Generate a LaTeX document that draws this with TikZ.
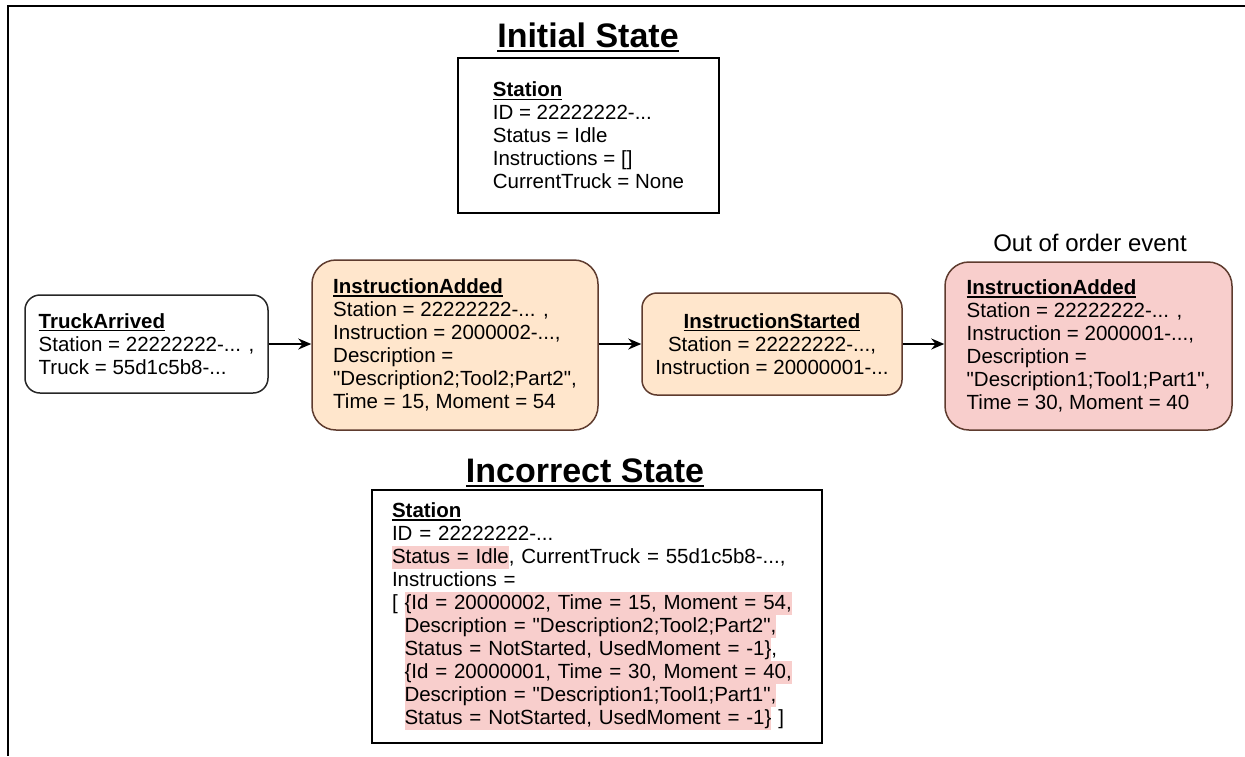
\documentclass[tikz,border=0pt]{standalone}
\usepackage{fontspec}
\setmainfont{Liberation Sans}
\usetikzlibrary{arrows.meta}

\definecolor{peach}{HTML}{FFE6CC}
\definecolor{rose}{HTML}{F8CECC}
\definecolor{rust}{HTML}{5E3B2E}

% underlined words: small ones inside boxes, big ones for the headings
\newcommand{\ulword}[1]{\leavevmode\setbox0\hbox{#1}\rlap{\rule[-3pt]{\wd0}{1.3pt}}\box0}
\newcommand{\ultitle}[1]{\leavevmode\setbox0\hbox{#1}\rlap{\rule[-5pt]{\wd0}{2.4pt}}\box0}
% pink marker behind wrong values, one full line high
\newcommand{\hlite}[1]{{\setlength{\fboxsep}{0pt}\colorbox{rose}{\rule[-5.5pt]{0pt}{23pt}#1}}}
\newcommand{\skipin}{\hphantom{[ }}
\newcommand{\qq}{\textquotedbl{}}

\begin{document}
\begin{tikzpicture}[x=1pt,y=-1pt]
	\tikzstyle{every node}+=[font=\fontsize{20.5}{23}\selectfont,inner sep=0pt]
	\tikzstyle{state}=[draw=black,line width=1.5pt,align=left]
	\tikzstyle{event}=[draw=rust,fill=peach,line width=1.5pt,align=left]
	\tikzstyle{heading}=[anchor=base,font=\fontsize{34}{38}\selectfont\bfseries]
	\tikzstyle{flow}=[line width=1.5pt,-{Stealth[length=13pt,width=11pt]}]
	\useasboundingbox (0,0) rectangle (1245,756);
	\lineskiplimit=-10pt
	% frame edges
	\draw [line width=2pt] (7,6) -- (1245,6);
	\draw [line width=2pt] (8,5) -- (8,756);
	% initial state
	\node [heading] (inittitle) at (588,47) {\ultitle{Initial State}};
	\node [state,minimum width=261pt,minimum height=155pt] (init) at (588.5,135.5) {\ulword{\textbf{Station}}\\ID = 22222222-...\\Status = Idle\\Instructions = []\\CurrentTruck = None};
	% events
	\node [draw=black!85,line width=1.5pt,rounded corners=15pt,align=left,minimum width=243pt,minimum height=98pt] (truck) at (146.5,344) {\ulword{\textbf{TruckArrived}}\\Station = 22222222-... ,\\Truck = 55d1c5b8-...};
	\node [event,rounded corners=24pt,minimum width=286pt,minimum height=170pt] (added) at (455,345) {\ulword{\textbf{InstructionAdded}}\\Station = 22222222-... ,\\Instruction = 2000002-...,\\Description =\\\qq Description2;Tool2;Part2\qq,\\Time = 15, Moment = 54};
	\node [event,align=center,rounded corners=15pt,minimum width=260pt,minimum height=102pt] (started) at (772,344) {\ulword{\textbf{InstructionStarted}}\\Station = 22222222-...,\\Instruction = 20000001-...};
	\node [event,fill=rose,rounded corners=24pt,minimum width=287pt,minimum height=168pt] (late) at (1088.5,346) {\ulword{\textbf{InstructionAdded}}\\Station = 22222222-... ,\\Instruction = 2000001-...,\\Description =\\\qq Description1;Tool1;Part1\qq,\\Time = 30, Moment = 40};
	\node [font=\fontsize{24}{28}\selectfont] (latenote) at (1090,243) {Out of order event};
	\draw [flow] (truck.east) -- (truck.east -| added.west);
	\draw [flow] (added.east |- started.west) -- (started.west);
	\draw [flow] (started.east) -- (started.east -| late.west);
	% incorrect state
	\node [heading] (badtitle) at (585,482) {\ultitle{Incorrect State}};
	\node [state,text width=410pt,inner xsep=20pt,minimum height=253pt] (bad) at (597,616.5) {\ulword{\textbf{Station}}\\ID = 22222222-...\\\hlite{Status = Idle}, CurrentTruck = 55d1c5b8-...,\\Instructions =\\{[} \hlite{\{Id = 20000002, Time = 15, Moment = 54,}\\\skipin\hlite{Description = \qq Description2;Tool2;Part2\qq,}\\\skipin\hlite{Status = NotStarted, UsedMoment = -1\}},\\\skipin\hlite{\{Id = 20000001, Time = 30, Moment = 40,}\\\skipin\hlite{Description = \qq Description1;Tool1;Part1\qq,}\\\skipin\hlite{Status = NotStarted, UsedMoment = -1\}} ]};
\end{tikzpicture}
\end{document}
